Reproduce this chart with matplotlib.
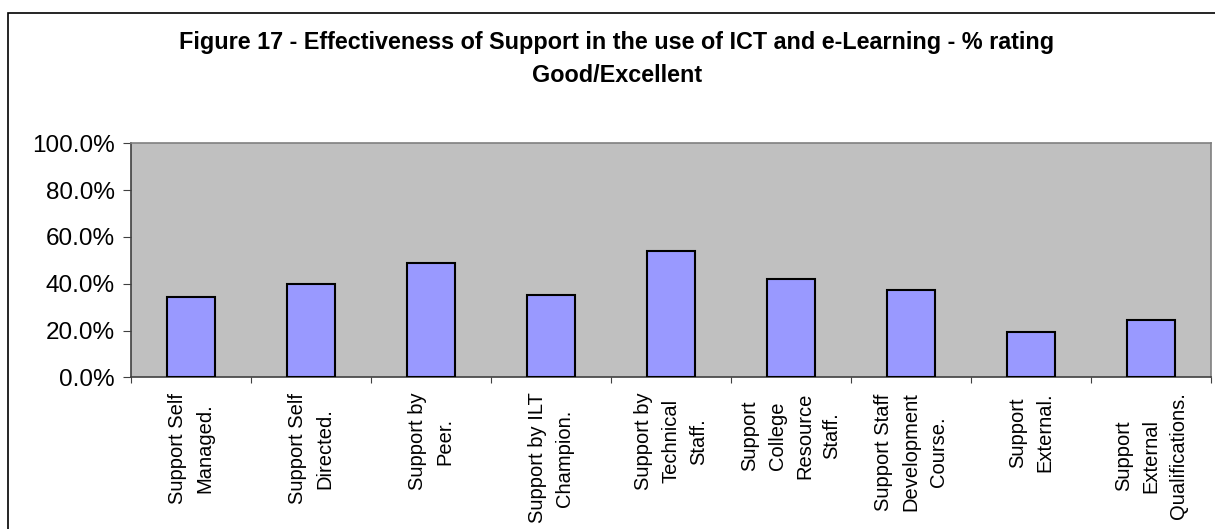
import matplotlib
matplotlib.use("Agg")
import matplotlib.pyplot as plt
from matplotlib.patches import Rectangle
from matplotlib.ticker import FuncFormatter, FixedLocator

categories = [
    "Support Self\nManaged.",
    "Support Self\nDirected.",
    "Support by\nPeer.",
    "Support by ILT\nChampion.",
    "Support by\nTechnical\nStaff.",
    "Support\nCollege\nResource\nStaff.",
    "Support Staff\nDevelopment\nCourse.",
    "Support\nExternal.",
    "Support\nExternal\nQualifications.",
]
good_excellent = [0.344, 0.399, 0.488, 0.353, 0.540, 0.420, 0.374, 0.195, 0.246]
y_ticks = [0.0, 0.2, 0.4, 0.6, 0.8, 1.0]
title_lines = ["Figure 17 - Effectiveness of Support in the use of ICT and e-Learning - % rating",
               "Good/Excellent"]

plt.rcParams["font.family"] = ["Liberation Sans", "DejaVu Sans"]

W, H = 1215, 529
fig = plt.figure(figsize=(W / 100, H / 100), dpi=100)

# outer chart frame
fig.patches.append(Rectangle((8 / W, -0.1), 1.2, (H - 13) / H + 0.1,
                             transform=fig.transFigure, fill=False,
                             edgecolor="black", linewidth=1.2))

ax = fig.add_axes([131 / W, (H - 377.3) / H, (1211 - 131) / W, (377.3 - 143.3) / H])
ax.set_facecolor("#C0C0C0")

n = len(categories)
centers = [i + 0.5 for i in range(n)]
ax.bar(centers, good_excellent, width=0.4, color="#9999FF",
       edgecolor="black", linewidth=1.5, zorder=3)

ax.set_xlim(0, n)
ax.set_ylim(0, 1.0)

# tick marks between categories, labels at category centres
ax.xaxis.set_major_locator(FixedLocator(list(range(n + 1))))
ax.xaxis.set_minor_locator(FixedLocator(centers))
ax.set_xticklabels([""] * (n + 1))
ax.set_xticklabels(categories, minor=True, rotation=90, fontsize=14.5,
                   ha="center", va="top", multialignment="center",
                   linespacing=1.55)
ax.tick_params(axis="x", which="major", length=4, direction="out", color="#404040")
ax.tick_params(axis="x", which="minor", length=0, pad=11)

ax.set_yticks(y_ticks)
ax.yaxis.set_major_formatter(FuncFormatter(lambda v, p: f"{v * 100:.1f}%"))
ax.tick_params(axis="y", length=5.5, direction="out", labelsize=17.5, pad=6, color="#404040")

for side in ("top", "right"):
    ax.spines[side].set_color("#808080")
    ax.spines[side].set_linewidth(1.2)
for side in ("left", "bottom"):
    ax.spines[side].set_color("#404040")
    ax.spines[side].set_linewidth(1.2)

fig.text(617 / W, 1 - 43 / H, title_lines[0], ha="center", va="center",
         fontsize=16.8, fontweight="bold")
fig.text(617 / W, 1 - 75 / H, title_lines[1], ha="center", va="center",
         fontsize=16.8, fontweight="bold")

fig.savefig("out.png", dpi=100)
